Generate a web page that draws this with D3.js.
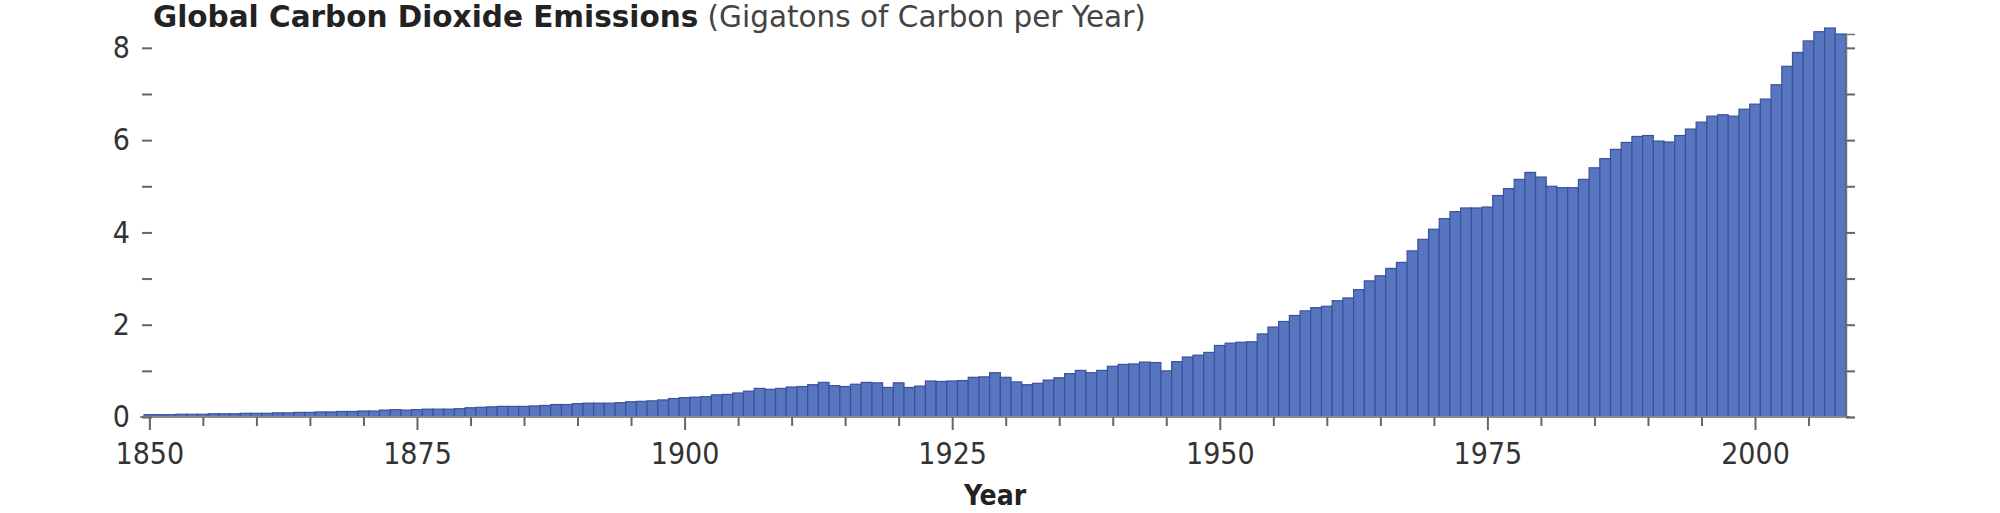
<!DOCTYPE html>
<html>
<head>
<meta charset="utf-8">
<script src="https://cdn.jsdelivr.net/npm/d3@7"></script>
<style>
  body { margin: 0; background: #fff; }
  .tick text { font-family: "DejaVu Sans Condensed", "DejaVu Sans", sans-serif; fill: #333; }
</style>
</head>
<body>
<div id="chart"></div>
<script>
// --------------------------------------
//  Data (gigatons of carbon per year)
// --------------------------------------

const firstYear = 1850;
const emissions = [
  0.05, 0.05, 0.05, 0.06, 0.06, 0.06, 0.07, 0.07, 0.07, 0.08,   // 1850s
  0.08, 0.08, 0.09, 0.09, 0.10, 0.10, 0.11, 0.11, 0.12, 0.12,   // 1860s
  0.13, 0.13, 0.15, 0.16, 0.15, 0.16, 0.17, 0.17, 0.17, 0.18,   // 1870s
  0.20, 0.21, 0.22, 0.23, 0.23, 0.23, 0.24, 0.25, 0.27, 0.27,   // 1880s
  0.29, 0.30, 0.30, 0.30, 0.31, 0.33, 0.34, 0.35, 0.37, 0.40,   // 1890s
  0.42, 0.43, 0.44, 0.48, 0.49, 0.52, 0.56, 0.62, 0.60, 0.62,   // 1900s
  0.65, 0.66, 0.70, 0.75, 0.68, 0.66, 0.71, 0.75, 0.74, 0.64,   // 1910s
  0.74, 0.64, 0.67, 0.78, 0.77, 0.78, 0.79, 0.86, 0.87, 0.96,   // 1920s
  0.86, 0.76, 0.70, 0.73, 0.80, 0.85, 0.94, 1.01, 0.96, 1.01,   // 1930s
  1.10, 1.14, 1.15, 1.19, 1.18, 1.00, 1.20, 1.30, 1.34, 1.40,   // 1940s
  1.55, 1.60, 1.62, 1.63, 1.80, 1.95, 2.07, 2.20, 2.30, 2.37,   // 1950s
  2.40, 2.52, 2.58, 2.76, 2.95, 3.06, 3.22, 3.35, 3.60, 3.85,   // 1960s
  4.07, 4.30, 4.45, 4.53, 4.53, 4.55, 4.80, 4.95, 5.15, 5.30,   // 1970s
  5.20, 5.00, 4.97, 4.97, 5.15, 5.40, 5.60, 5.80, 5.95, 6.08,   // 1980s
  6.10, 5.98, 5.96, 6.10, 6.24, 6.39, 6.52, 6.55, 6.52, 6.67,   // 1990s
  6.78, 6.89, 7.20, 7.60, 7.90, 8.15, 8.35, 8.43, 8.30          // 2000s
];
const years = emissions.map((d, i) => firstYear + i);

const xTickYears = [1850, 1875, 1900, 1925, 1950, 1975, 2000];
const yTickValues = [0, 2, 4, 6, 8];

const titleBold = "Global Carbon Dioxide Emissions";
const titleUnits = "(Gigatons of Carbon per Year)";
const xTitle = "Year";

// --------------------------------------
//  Margin and canvas
// --------------------------------------

const width = 2000;
const height = 513;
const margin = {top: 26, right: 154, bottom: 96, left: 144};
const innerwidth = width - margin.left - margin.right;
const innerheight = height - margin.top - margin.bottom;

const svg = d3.select("#chart")
  .append("svg")
    .attr("width", width)
    .attr("height", height)
    .attr("viewBox", `0, 0, ${width}, ${height}`);

svg.append("rect")
    .attr("width", width)
    .attr("height", height)
    .attr("fill", "#fff");

const innerChart = svg
  .append("g")
    .attr("transform", `translate(${margin.left}, ${margin.top})`);

// --------------------------------------
//  Scales
// --------------------------------------

const x = d3.scaleLinear()
    .domain([firstYear - 0.5, years[years.length - 1] + 0.5])
    .range([0, innerwidth]);

const y = d3.scaleLinear()
    .domain([0, 8.3])
    .range([innerheight, 8]);

// --------------------------------------
//  Bars
// --------------------------------------

innerChart
  .append("g")
  .selectAll("rect")
  .data(years)
  .join("rect")
    .attr("x", d => x(d - 0.5))
    .attr("width", d => x(d + 0.5) - x(d - 0.5))
    .attr("y", (d, i) => y(emissions[i]))
    .attr("height", (d, i) => y(0) - y(emissions[i]))
    .attr("fill", "#5875c0")
    .attr("stroke", "#3a529c")
    .attr("stroke-width", 1.2);

// --------------------------------------
//  Axes
// --------------------------------------

const tickFont = "30px";

// bottom axis: labels every 25 years, minor ticks every 5
const xAxis = innerChart.append("g")
    .attr("transform", `translate(0, ${innerheight})`);

xAxis.append("line")
    .attr("x1", -4)
    .attr("x2", innerwidth + 4)
    .attr("stroke", "#8a8a8a")
    .attr("stroke-width", 2);

xAxis.append("g")
    .call(d3.axisBottom(x)
        .tickValues(d3.range(1850, 2009, 5).filter(d => d % 25 !== 0))
        .tickSize(9)
        .tickFormat(""))
    .call(g => g.select(".domain").remove())
    .call(g => g.selectAll(".tick line").attr("stroke", "#666").attr("stroke-width", 2));

xAxis.append("g")
    .call(d3.axisBottom(x)
        .tickValues(xTickYears)
        .tickSize(13)
        .tickPadding(13)
        .tickFormat(d3.format("d")))
    .call(g => g.select(".domain").remove())
    .call(g => g.selectAll(".tick line").attr("stroke", "#666").attr("stroke-width", 2))
    .call(g => g.selectAll(".tick text").style("font-size", tickFont));

// left axis: labels on even values, ticks on every unit
const yAxis = innerChart.append("g")
    .attr("transform", "translate(8, 0)");

yAxis.append("g")
    .call(d3.axisLeft(y)
        .ticks(8)
        .tickSize(10)
        .tickPadding(12)
        .tickFormat(d => yTickValues.includes(d) ? d : ""))
    .call(g => g.select(".domain").remove())
    .call(g => g.selectAll(".tick line").attr("stroke", "#666").attr("stroke-width", 2))
    .call(g => g.selectAll(".tick text").style("font-size", tickFont));

// right axis: ticks only
innerChart.append("g")
    .attr("transform", `translate(${innerwidth}, 0)`)
    .call(d3.axisRight(y)
        .ticks(8)
        .tickSize(9)
        .tickFormat(""))
    .call(g => g.select(".domain").attr("stroke", "#777").attr("stroke-width", 1.5))
    .call(g => g.selectAll(".tick line").attr("stroke", "#666").attr("stroke-width", 2));

// --------------------------------------
//  Titles
// --------------------------------------

const title = svg.append("text")
    .attr("x", 153)
    .attr("y", 27)
    .attr("font-family", "'DejaVu Sans', sans-serif")
    .attr("font-size", 29.5)
    .attr("fill", "#222");

title.append("tspan")
    .attr("font-weight", "bold")
    .text(titleBold);

title.append("tspan")
    .attr("fill", "#444")
    .text(" " + titleUnits);

svg.append("text")
    .attr("x", margin.left + x(1929))
    .attr("y", 505)
    .attr("text-anchor", "middle")
    .attr("font-family", "'DejaVu Sans Condensed', 'DejaVu Sans', sans-serif")
    .attr("font-weight", "bold")
    .attr("font-size", 28)
    .attr("fill", "#222")
    .text(xTitle);
</script>
</body>
</html>
